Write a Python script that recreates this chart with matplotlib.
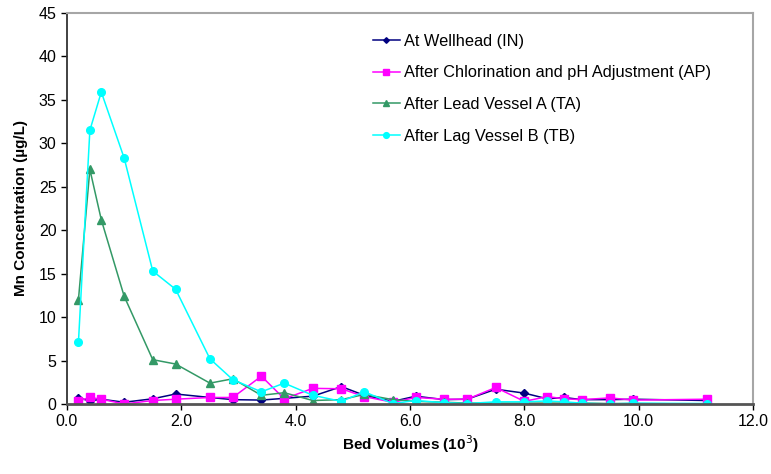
import matplotlib
matplotlib.use("Agg")
import matplotlib.pyplot as plt

plt.rcParams['font.family'] = ['Liberation Sans', 'DejaVu Sans']

# bed volumes (x 10^3) and Mn concentrations (ug/L) per sampling point
bed_volumes = [0.2, 0.4, 0.6, 1.0, 1.5, 1.9, 2.5, 2.9, 3.4, 3.8, 4.3, 4.8, 5.2,
               5.7, 6.1, 6.6, 7.0, 7.5, 8.0, 8.4, 8.7, 9.0, 9.5, 9.9, 11.2]

mn_in = [0.7, 0.35, 0.55, 0.2, 0.6, 1.15, 0.75, 0.5, 0.45, 0.65, 0.9, 2.0, 1.0,
         0.3, 0.9, 0.5, 0.55, 1.7, 1.25, 0.6, 0.75, 0.5, 0.5, 0.55, 0.4]
mn_ap = [0.35, 0.75, 0.55, 0.0, 0.4, 0.55, 0.75, 0.75, 3.2, 0.6, 1.8, 1.75, 0.85,
         0.2, 0.75, 0.55, 0.55, 1.9, 0.3, 0.85, 0.6, 0.5, 0.7, 0.45, 0.55]
mn_ta = [12.0, 27.0, 21.2, 12.4, 5.1, 4.6, 2.4, 2.9, 1.0, 1.3, 0.4, 0.5, 1.1,
         0.5, 0.3, 0.2, 0.1, 0.1, 0.1, 0.1, 0.1, 0.1, 0.05, 0.05, 0.0]
mn_tb = [7.1, 31.5, 35.9, 28.3, 15.3, 13.2, 5.2, 2.8, 1.4, 2.4, 1.0, 0.3, 1.4,
         0.05, 0.4, 0.15, 0.05, 0.25, 0.25, 0.35, 0.25, 0.1, 0.0, 0.1, 0.05]

series = [
    (mn_in, "At Wellhead (IN)", "#000080", "D", 3.8),
    (mn_ap, "After Chlorination and pH Adjustment (AP)", "#FF00FF", "s", 5.5),
    (mn_ta, "After Lead Vessel A (TA)", "#339966", "^", 5.5),
    (mn_tb, "After Lag Vessel B (TB)", "#00FFFF", "o", 5.5),
]

fig = plt.figure(figsize=(7.71, 4.74), dpi=100)
ax = fig.add_axes([0.0869, 0.1477, 0.8898, 0.8249])

for values, label, color, marker, size in series:
    ax.plot(bed_volumes, values, color=color, marker=marker, markersize=size,
            linewidth=1.1, label=label)

ax.set_xlim(0, 12)
ax.set_ylim(0, 45)
ax.set_xticks([0, 2, 4, 6, 8, 10, 12])
ax.set_xticklabels(["0.0", "2.0", "4.0", "6.0", "8.0", "10.0", "12.0"])
ax.set_yticks(range(0, 50, 5))
ax.tick_params(direction="out", length=4, width=1, labelsize=11.5, colors="black")

for side in ("top", "right"):
    ax.spines[side].set_color("#a6a6a6")
    ax.spines[side].set_linewidth(1.5)
ax.spines["left"].set_color("#333333")
ax.spines["bottom"].set_color("#555555")
ax.spines["left"].set_linewidth(1.3)
ax.spines["bottom"].set_linewidth(2)

ax.set_xlabel("Bed Volumes (10$^3$)", fontsize=11, fontweight="bold", labelpad=3)
ax.set_ylabel("Mn Concentration (µg/L)", fontsize=11, fontweight="bold", labelpad=8)

ax.legend(loc="upper left", bbox_to_anchor=(0.425, 0.985), frameon=False,
          fontsize=11.8, labelspacing=1.02, handlelength=1.6, handletextpad=0.3,
          markerscale=0.75)

fig.savefig("out.png", dpi=100)
